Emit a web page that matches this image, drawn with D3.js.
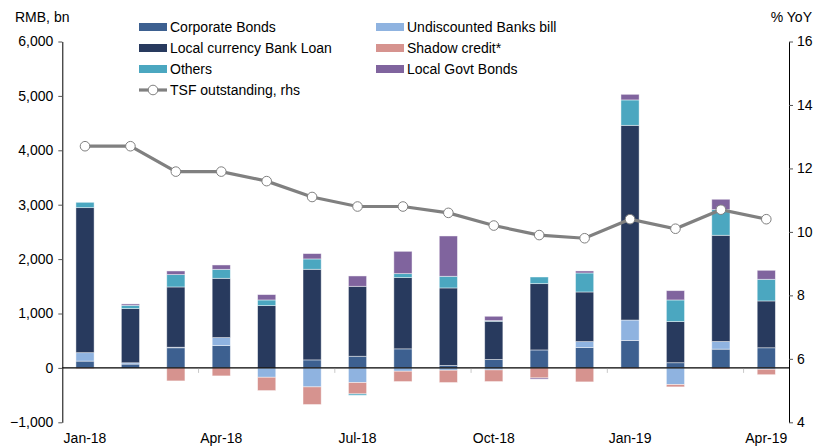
<!DOCTYPE html>
<html>
<head>
<meta charset="utf-8">
<script src="https://cdn.jsdelivr.net/npm/d3@7"></script>
<style>
  html, body { margin: 0; padding: 0; background: #fff; }
  svg { display: block; font-family: 'Liberation Sans', Arial, sans-serif; }
</style>
</head>
<body>
<div id="chart"></div>
<script>
const months = ['Jan-18', 'Feb-18', 'Mar-18', 'Apr-18', 'May-18', 'Jun-18', 'Jul-18', 'Aug-18',
  'Sep-18', 'Oct-18', 'Nov-18', 'Dec-18', 'Jan-19', 'Feb-19', 'Mar-19', 'Apr-19']
const tickMonths = ['Jan-18', 'Apr-18', 'Jul-18', 'Oct-18', 'Jan-19', 'Apr-19']

// RMB bn, monthly flow
const corporateBonds = [125, 70, 370, 410, 0, 147, 214, 350, 45, 155, 330, 375, 505, 95, 345, 370]
const undiscountedBills = [155, 24, 10, 147, -172, -349, -270, -61, -43, -37, 0, 108, 375, -306, 140, -25]
const bankLoan = [2666, 996, 1108, 1090, 1145, 1666, 1286, 1310, 1425, 702, 1219, 913, 3579, 756, 1953, 861]
const shadowCredit = [-15, 0, -239, -147, -245, -324, -208, -190, -226, -214, -184, -257, -15, -43, -20, -100]
const others = [98, 61, 227, 165, 104, 190, -25, 73, 214, 12, 122, 349, 467, 398, 472, 398]
const govtBonds = [0, 25, 67, 80, 98, 98, 190, 410, 741, 80, -22, 37, 103, 171, 190, 165]

// % YoY
const tsfOutstanding = [12.7, 12.7, 11.9, 11.9, 11.6, 11.1, 10.8, 10.8, 10.6, 10.2, 9.9, 9.8, 10.4, 10.1, 10.7, 10.4]

const leftTicks = [-1000, 0, 1000, 2000, 3000, 4000, 5000, 6000]
const rightTicks = [4, 6, 8, 10, 12, 14, 16]

const series = [
  { key: 'corp', name: 'Corporate Bonds', color: '#3d6090', values: corporateBonds },
  { key: 'bill', name: 'Undiscounted Banks bill', color: '#8fb3e0', values: undiscountedBills },
  { key: 'loan', name: 'Local currency Bank Loan', color: '#283a5e', values: bankLoan },
  { key: 'shadow', name: 'Shadow credit*', color: '#d6938f', values: shadowCredit },
  { key: 'others', name: 'Others', color: '#4ba7c0', values: others },
  { key: 'govt', name: 'Local Govt Bonds', color: '#80649e', values: govtBonds }
]

const width = 816
const height = 448
const plotLeft = 62.3
const plotRight = 789
const plotTop = 41.5
const plotBottom = 422.3

const svg = d3.select('#chart')
  .append('svg')
  .attr('width', width)
  .attr('height', height)

const xScale = d3.scaleBand().domain(months).range([plotLeft, plotRight])
  .paddingInner(0.6).paddingOuter(0.3)
const yScale = d3.scaleLinear().domain([-1000, 6000]).range([plotBottom, plotTop])
const y2Scale = d3.scaleLinear().domain([4, 16]).range([plotBottom, plotTop])

const table = months.map((m, i) => {
  const row = { month: m }
  series.forEach(s => { row[s.key] = s.values[i] })
  return row
})

const stacked = d3.stack()
  .keys(series.map(s => s.key))
  .offset(d3.stackOffsetDiverging)(table)

// bars
const barg = svg.append('g').classed('bar', true)
stacked.forEach((layer, li) => {
  barg.append('g')
    .selectAll('rect')
    .data(layer)
    .enter()
    .append('rect')
    .attr('x', d => xScale(d.data.month))
    .attr('width', xScale.bandwidth())
    .attr('y', d => yScale(Math.max(d[0], d[1])))
    .attr('height', d => Math.abs(yScale(d[0]) - yScale(d[1])))
    .style('fill', series[li].color)
    .style('stroke', 'rgba(255,255,255,0.55)')
    .style('stroke-width', 0.8)
})

// zero line + small ticks between quarters
svg.append('line')
  .attr('x1', plotLeft).attr('x2', plotRight)
  .attr('y1', yScale(0)).attr('y2', yScale(0))
  .style('stroke', '#000').style('stroke-width', 1.2)

const step = xScale.step()
svg.append('g').selectAll('line')
  .data(tickMonths.slice(1))
  .enter()
  .append('line')
  .attr('x1', d => xScale(d) - (step - xScale.bandwidth()) / 2)
  .attr('x2', d => xScale(d) - (step - xScale.bandwidth()) / 2)
  .attr('y1', yScale(0) + 1)
  .attr('y2', yScale(0) + 5)
  .style('stroke', '#c8c8c8')

// x labels
svg.append('g').selectAll('text')
  .data(tickMonths)
  .enter()
  .append('text')
  .attr('x', d => xScale(d) + xScale.bandwidth() / 2)
  .attr('y', 443)
  .attr('text-anchor', 'middle')
  .style('font-size', '14px')
  .text(d => d)

// left axis
const yAxis = d3.axisLeft(yScale).tickValues(leftTicks).tickSize(4).tickSizeOuter(0)
  .tickFormat(d3.format(','))
const yAxisg = svg.append('g')
  .attr('transform', `translate(${plotLeft}, 0)`)
  .call(yAxis)
yAxisg.select('.domain').style('stroke', '#000')
yAxisg.selectAll('.tick line').style('stroke', '#555')
yAxisg.selectAll('.tick text')
  .style('font-size', '14px').style('fill', '#000')
  .attr('x', -9)
  .style('font-family', 'Liberation Sans, Arial, sans-serif')

// right axis
const y2Axis = d3.axisRight(y2Scale).tickValues(rightTicks).tickSize(4).tickSizeOuter(0)
const y2Axisg = svg.append('g')
  .attr('transform', `translate(${plotRight}, 0)`)
  .call(y2Axis)
y2Axisg.select('.domain').style('stroke', '#000')
y2Axisg.selectAll('.tick line').style('stroke', '#555')
y2Axisg.selectAll('.tick text')
  .style('font-size', '14px').style('fill', '#000')
  .attr('x', 8)
  .style('font-family', 'Liberation Sans, Arial, sans-serif')

// TSF line
const cx = d => xScale(d) + xScale.bandwidth() / 2
const line = d3.line()
  .x((d, i) => cx(months[i]))
  .y(d => y2Scale(d))
svg.append('path')
  .datum(tsfOutstanding)
  .attr('d', line)
  .style('fill', 'none')
  .style('stroke', '#808080')
  .style('stroke-width', 3.2)
svg.append('g').selectAll('circle')
  .data(tsfOutstanding)
  .enter()
  .append('circle')
  .attr('cx', (d, i) => cx(months[i]))
  .attr('cy', d => y2Scale(d))
  .attr('r', 4.8)
  .style('fill', '#fff')
  .style('stroke', '#808080')
  .style('stroke-width', 1)

// axis titles
svg.append('text').attr('x', 15).attr('y', 22)
  .style('font-size', '14px').text('RMB, bn')
svg.append('text').attr('x', 812).attr('y', 22)
  .attr('text-anchor', 'end')
  .style('font-size', '14px').text('% YoY')

// legend
const legendOrder = [
  ['corp', 0, 0], ['loan', 0, 1], ['others', 0, 2],
  ['bill', 1, 0], ['shadow', 1, 1], ['govt', 1, 2]
]
const colX = [139, 376]
const rowY = [27, 48, 69, 90]
const legend = svg.append('g').classed('legend', true)
legendOrder.forEach(([key, c, r]) => {
  const s = series.find(v => v.key === key)
  legend.append('rect')
    .attr('x', colX[c]).attr('y', rowY[r] - 4)
    .attr('width', 28).attr('height', 8)
    .style('fill', s.color)
  legend.append('text')
    .attr('x', colX[c] + 31).attr('y', rowY[r])
    .attr('dy', '0.35em')
    .style('font-size', '14px')
    .text(s.name)
})
legend.append('line')
  .attr('x1', colX[0]).attr('x2', colX[0] + 28)
  .attr('y1', rowY[3]).attr('y2', rowY[3])
  .style('stroke', '#808080').style('stroke-width', 3.2)
legend.append('circle')
  .attr('cx', colX[0] + 14).attr('cy', rowY[3]).attr('r', 4.8)
  .style('fill', '#fff').style('stroke', '#808080')
legend.append('text')
  .attr('x', colX[0] + 31).attr('y', rowY[3])
  .attr('dy', '0.35em')
  .style('font-size', '14px')
  .text('TSF outstanding, rhs')
</script>
</body>
</html>
